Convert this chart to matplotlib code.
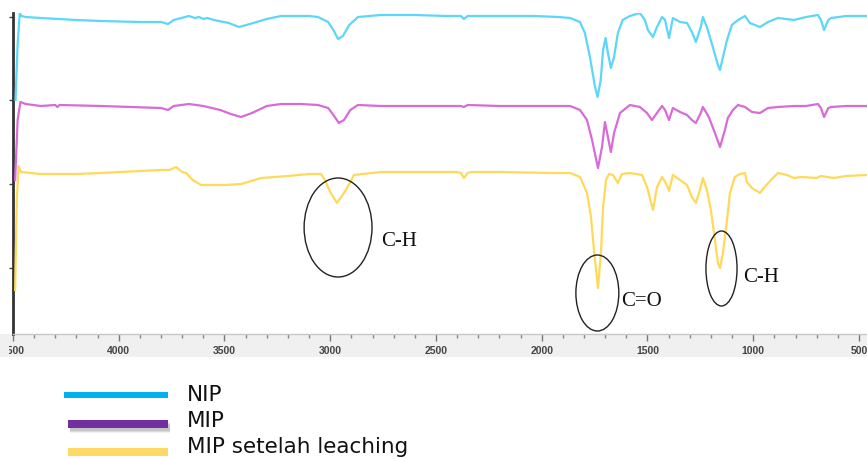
import matplotlib
matplotlib.use("Agg")
import matplotlib.pyplot as plt
from matplotlib.patches import Ellipse, Rectangle
from matplotlib.lines import Line2D
from matplotlib.transforms import Bbox

W, H = 867, 459

# ---- data (wavenumber cm-1, transmittance in arbitrary offset units) ----
nip_wn = [4488, 4478, 4468, 4460, 4440, 4368, 4200, 4084, 3900, 3800, 3767, 3740, 3668, 3640,
          3620, 3600, 3580, 3550, 3480, 3431, 3380, 3300, 3233, 3100, 3058, 3010, 2985, 2963,
          2940, 2910, 2869, 2760, 2600, 2450, 2382, 2368, 2350, 2200, 2037, 1920, 1866, 1819,
          1796, 1772, 1748, 1736, 1721, 1710, 1698, 1687, 1673, 1658, 1640, 1617, 1583, 1536,
          1512, 1498, 1474, 1455, 1431, 1417, 1398, 1380, 1346, 1313, 1290, 1271, 1248, 1238,
          1219, 1191, 1167, 1157, 1143, 1124, 1101, 1072, 1039, 1016, 992, 968, 930, 883,
          807, 750, 694, 680, 665, 645, 632, 560, 462]
nip_t = [234, 290, 321, 318, 317, 316, 314, 313, 312, 312, 310, 314, 318, 316,
         317, 315, 316, 314, 311, 307, 310, 315, 318, 318, 317, 312, 304, 295,
         298, 309, 317, 319, 319, 318, 318, 315, 318, 318, 318, 317, 316, 312,
         301, 277, 247, 237, 254, 284, 296, 281, 266, 277, 301, 314, 318, 321,
         314, 304, 297, 307, 317, 314, 296, 316, 312, 311, 302, 292, 307, 317,
         307, 287, 269, 264, 277, 294, 309, 314, 318, 311, 309, 307, 312, 316,
         314, 317, 319, 314, 304, 314, 316, 318, 318]

mip_wn = [4490, 4478, 4465, 4440, 4368, 4300, 4290, 4280, 4084, 3800, 3767, 3740, 3668, 3600,
          3520, 3470, 3422, 3370, 3300, 3233, 3138, 3058, 3010, 2985, 2959, 2935, 2905, 2869,
          2760, 2600, 2382, 2368, 2350, 2200, 2000, 1900, 1866, 1819, 1786, 1762, 1734, 1715,
          1701, 1687, 1673, 1658, 1630, 1583, 1536, 1502, 1479, 1455, 1431, 1417, 1398, 1380,
          1346, 1313, 1290, 1271, 1248, 1238, 1210, 1181, 1157, 1134, 1120, 1096, 1072, 1039,
          1006, 968, 930, 883, 807, 750, 694, 680, 665, 645, 632, 560, 462]
mip_t = [154, 214, 232, 230, 228, 229, 227, 229, 228, 226, 224, 228, 230, 228,
         224, 220, 217, 221, 228, 230, 230, 229, 226, 219, 211, 214, 224, 229,
         228, 228, 228, 227, 229, 228, 228, 228, 228, 224, 214, 194, 166, 187,
         212, 197, 182, 201, 221, 229, 227, 221, 214, 221, 228, 224, 214, 226,
         222, 219, 214, 211, 221, 227, 217, 201, 187, 204, 216, 224, 229, 227,
         222, 221, 226, 227, 228, 228, 230, 226, 217, 226, 227, 228, 228]

leach_wn = [4490, 4482, 4474, 4462, 4368, 4200, 4084, 3900, 3800, 3760, 3729, 3700, 3682, 3650,
            3611, 3500, 3420, 3327, 3200, 3100, 3044, 3025, 3000, 2968, 2945, 2926, 2900, 2888,
            2760, 2600, 2400, 2382, 2368, 2350, 2335, 2200, 1956, 1866, 1819, 1786, 1767, 1753,
            1734, 1720, 1710, 1696, 1682, 1663, 1640, 1621, 1583, 1526, 1502, 1474, 1455, 1431,
            1408, 1398, 1380, 1346, 1313, 1290, 1271, 1248, 1238, 1219, 1200, 1181, 1167, 1157,
            1143, 1124, 1110, 1087, 1063, 1039, 1030, 1006, 968, 950, 916, 883, 840, 807,
            774, 700, 680, 620, 560, 462]
leach_t = [44, 134, 168, 162, 160, 160, 161, 163, 164, 164, 167, 162, 161, 154,
           149, 149, 150, 156, 158, 160, 160, 154, 142, 131, 138, 144, 154, 159,
           162, 162, 162, 161, 156, 161, 162, 162, 161, 161, 157, 141, 117, 84,
           46, 81, 127, 154, 160, 159, 151, 160, 161, 159, 147, 124, 147, 157,
           149, 143, 159, 154, 149, 137, 131, 147, 156, 144, 124, 94, 71, 66,
           81, 114, 141, 157, 160, 161, 152, 146, 141, 146, 154, 161, 159, 156,
           157, 156, 158, 156, 158, 159]

major_ticks = [4500, 4000, 3500, 3000, 2500, 2000, 1500, 1000, 500]
major_labels = ["4500", "4000", "3500", "3000", "2500", "2000", "1500", "1000", "500"]
y_ticks = [317, 234, 150, 66]

legend_names = ["NIP", "MIP", "MIP setelah leaching"]
legend_colors = ["#00B0F0", "#7030A0", "#FFD966"]
line_colors = ["#5CD6F9", "#D86BD8", "#FFD95A"]

# ---- figure ----
fig = plt.figure(figsize=(W / 100, H / 100), dpi=100)
ax = fig.add_axes([13 / W, (H - 334) / H, (W - 13) / W, 321 / H])

fig.add_artist(Rectangle((0, (H - 357) / H), 1, 23 / H, transform=fig.transFigure,
                         facecolor="#f0f0f0", edgecolor="none", zorder=-1))

ax.plot(leach_wn, leach_t, color=line_colors[2], lw=1.6, zorder=3)
ax.plot(mip_wn, mip_t, color=line_colors[1], lw=1.6, zorder=3)
ax.plot(nip_wn, nip_t, color=line_colors[0], lw=1.6, zorder=3)

ax.set_xlim(4500, 462)
ax.set_ylim(0, 321)

for s in ("top", "right"):
    ax.spines[s].set_visible(False)
ax.spines["left"].set_color("#333333")
ax.spines["left"].set_linewidth(2.0)
ax.spines["bottom"].set_color("#c8c8c8")
ax.spines["bottom"].set_linewidth(1.0)

ax.set_xticks(major_ticks)
ax.set_xticklabels(major_labels, fontfamily="Liberation Sans", fontsize=7.5,
                   color="#444444", fontweight="bold")
ax.set_xticks(list(range(4500, 462, -100)), minor=True)
ax.tick_params(axis="x", which="major", length=5, width=1, color="#777777", pad=4)
ax.tick_params(axis="x", which="minor", length=3, width=1, color="#888888")
ax.set_yticks(y_ticks)
ax.set_yticklabels([""] * len(y_ticks))
ax.tick_params(axis="y", length=3, width=1, color="#444444")

clip = Bbox.from_extents(9, 0, W, H)
for lab in ax.get_xticklabels():
    lab.set_clip_box(clip)
    lab.set_clip_on(True)

# annotations (ellipses + labels)
ell_specs = [((2963, 106.5), 321, 99), ((1737, 41), 203, 76), ((1150, 65.5), 147, 75)]
for (c, w, h) in ell_specs:
    ax.add_patch(Ellipse(c, w, h, fill=False, edgecolor="#222222", lw=1.0, zorder=4))

ann_texts = ["C-H", "C=O", "C-H"]
ann_pos = [(2760, 92), (1626, 32), (1048, 57)]
for t, (x, y) in zip(ann_texts, ann_pos):
    ax.text(x, y, t, fontfamily="Liberation Serif", fontsize=15, color="#111111",
            ha="left", va="center", zorder=5)

# legend (manual)
leg_y = [395, 424, 452]
leg_x0 = [64, 68, 68]
leg_lw = [4.3, 5.8, 5.8]
# soft shadow under MIP
for dy, a in [(2.5, 0.22), (3.5, 0.16), (4.5, 0.10)]:
    fig.add_artist(Line2D([70 / W, 170 / W], [1 - (424 + dy) / H] * 2, transform=fig.transFigure,
                          color="#777777", lw=5.8, alpha=a, solid_capstyle="butt"))
for name, col, y, x0, lw in zip(legend_names, legend_colors, leg_y, leg_x0, leg_lw):
    fig.add_artist(Line2D([x0 / W, 168 / W], [1 - y / H] * 2, transform=fig.transFigure,
                          color=col, lw=lw, solid_capstyle="butt"))
leg_ty = [395, 421, 447]
for name, y in zip(legend_names, leg_ty):
    fig.text(187 / W, 1 - y / H, name, fontfamily="DejaVu Sans", fontsize=15.5,
             color="#111111", ha="left", va="center")

fig.savefig("out.png", dpi=100)
